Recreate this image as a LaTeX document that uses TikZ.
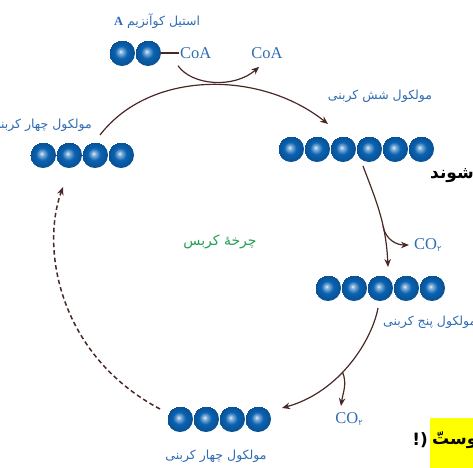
\documentclass[tikz,border=0pt]{standalone}
\usepackage{fontspec}
\setmainfont{Liberation Serif}
\newfontfamily\arabicfont[Script=Arabic]{DejaVu Sans}
\TeXXeTstate=1
\usetikzlibrary{arrows.meta, calc}
\newcommand{\atomSize}{26}
\newcommand{\arrowTip}{{Stealth[length=8pt, width=6.5pt]}}
\newcommand{\lineWidth}{1.2pt}
\definecolor{atomBlue}{RGB}{10,98,178}
\definecolor{labelBlue}{RGB}{48,108,178}
\definecolor{cycleGreen}{RGB}{38,158,84}
\definecolor{arrowBrown}{RGB}{72,40,36}
\definecolor{markYellow}{RGB}{255,255,0}
\pgfdeclareradialshading{atomShade}{\pgfpoint{-3bp}{3bp}}{%
  color(0bp)=(white!90!atomBlue); color(4bp)=(white!50!atomBlue);
  color(12bp)=(atomBlue); color(22bp)=(atomBlue!85!black); color(25bp)=(atomBlue!85!black)}
\tikzstyle{atom}=[shading=atomShade]
\tikzstyle{chainBox}=[draw=none, inner sep=0, outer sep=0, minimum height=\atomSize pt]
\tikzstyle{line}=[draw=arrowBrown, line width=\lineWidth]
\tikzstyle{arrow}=[line, -\arrowTip]
\tikzstyle{dashedArrow}=[arrow, line width=1.5pt, dash pattern=on 4.5pt off 3pt]
\tikzstyle{faLabel}=[text=labelBlue, inner sep=1pt, font=\arabicfont\fontsize{12.5}{14}\selectfont]
\tikzstyle{coaText}=[text=labelBlue, inner sep=1pt, font=\fontsize{16.5}{18}\selectfont]
\tikzstyle{cycleText}=[text=cycleGreen, inner sep=1pt, font=\arabicfont\fontsize{14}{16}\selectfont]
\tikzstyle{pageText}=[text=black, inner sep=1pt, font=\arabicfont\bfseries\fontsize{17}{19}\selectfont]
% a row of carbon atoms: name, number of atoms, centre
\newcommand{\molecule}[3]{%
  \node[chainBox, minimum width=#2*\atomSize pt] (#1) at (#3) {};
  \foreach \i in {1,...,#2} {
    \shade[atom] ($(#1.west)+(\i*\atomSize-0.5*\atomSize,0)$) circle[radius=0.5*\atomSize];
  }
}
\newcommand{\cotwo}{CO\raisebox{-0.35ex}{\arabicfont\fontsize{8}{8}\selectfont ۲}}

\begin{document}
\begin{tikzpicture}[x=1pt, y=-1pt]

\useasboundingbox (0,0) rectangle (473,467);
\clip (0,0) rectangle (473,467);

% Acetyl CoA
\molecule{acetyl}{2}{135,53}
\node[coaText, anchor=west] (coaIn) at (179,53) {CoA};
\node[coaText] (coaOut) at (267,53) {CoA};
\node[faLabel] (acetylLabel) at (157,21) {\beginR استیل کوآنزیم {\rmfamily\bfseries A}\endR};
\draw[line] (acetyl.east) -- (coaIn.west);

% Molecules round the cycle
\molecule{fourTop}{4}{82,155}
\node[faLabel, anchor=east] (fourTopLabel) at (93,125) {\beginR مولکول چهار کربنی\endR};
\molecule{six}{6}{356,149}
\node[faLabel] (sixLabel) at (380,96) {\beginR مولکول شش کربنی\endR};
\molecule{five}{5}{380,288}
\node[faLabel, anchor=west] (fiveLabel) at (382,322) {\beginR مولکول پنج کربنی\endR};
\molecule{fourBottom}{4}{219,419}
\node[faLabel] (fourBottomLabel) at (216,456) {\beginR مولکول چهار کربنی\endR};
\node[cycleText] (cycle) at (220,242) {\beginR چرخهٔ کربس\endR};

% Released CO2
\node[coaText, anchor=west] (co2Top) at (413,245) {\cotwo};
\node[coaText] (co2Bottom) at (349,419) {\cotwo};

% Arrows
\draw[arrow] ($(coaIn.south west)+(-1,6)$) .. controls +(14,20) and +(-25,22) .. ($(coaOut.south west)+(9,7)$);
\draw[arrow] ($(fourTop.north)+(18,-7)$) .. controls +(50,-65) and +(-68,-54) .. ($(six.north west)+(50,-12)$);
\draw[arrow] ($(six.south)+(7,4)$) .. controls +(12,32) and +(-2,-45) .. ($(five.north)+(8,-8)$)
  coordinate[pos=0.65] (splitTop);
\draw[arrow] (splitTop) .. controls +(3,14) and +(-12,0) .. ($(co2Top.west)+(-4,0)$);
\draw[arrow] ($(five.south)+(-2,7)$) .. controls +(-6,32) and +(58,-16) .. ($(fourBottom.east)+(11,-11)$)
  coordinate[pos=0.57] (splitBottom);
\draw[arrow] (splitBottom) .. controls +(5,12) and +(2,-14) .. ($(co2Bottom.north)+(-8,-5)$);
\draw[dashedArrow] ($(fourBottom.west)+(-7,-10)$) .. controls +(-100,-53) and +(-23,63) .. ($(fourTop.south)+(-19,19)$);

% Cut text of the page
\node[pageText, anchor=east] (shavand) at (475,176) {\beginR شوند\endR};
\node[fill=markYellow, inner sep=0, anchor=north west, minimum width=50pt, minimum height=50pt] (highlight) at (430,418) {};
\node[pageText, anchor=west] (peyvast) at (431,440) {\beginR پیوستّ\endR};
\node[pageText, anchor=east] (exclaim) at (429,440) {(!};

\end{tikzpicture}
\end{document}
